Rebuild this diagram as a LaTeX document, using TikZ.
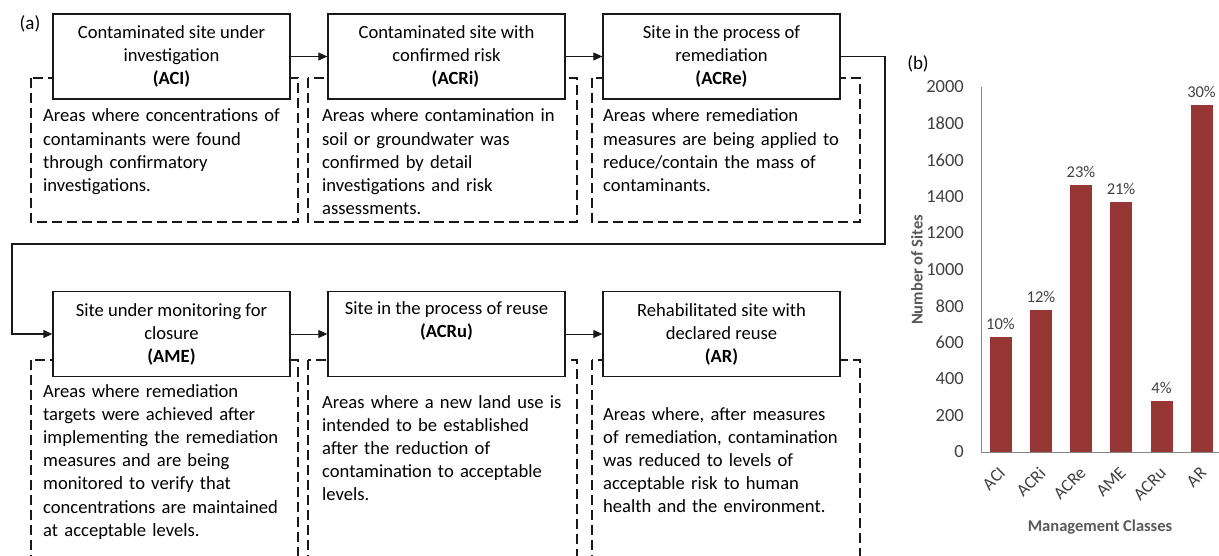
\documentclass[tikz,border=0pt]{standalone}
\usepackage{fontspec}
\usepackage{graphicx}
\setmainfont{Carlito}
\usetikzlibrary{arrows.meta}
\definecolor{barred}{RGB}{150,55,53}
\definecolor{axisgray}{RGB}{134,134,134}
\definecolor{labelgray}{RGB}{64,64,64}
\definecolor{titlegray}{RGB}{89,89,89}
\definecolor{ink}{RGB}{25,25,25}

\begin{document}
\begin{tikzpicture}[x=1pt,y=-1pt,
  stage/.style={draw=ink, line width=1.3pt, fill=white, minimum width=237pt,
    minimum height=85pt, inner sep=0pt, align=center,
    font=\fontsize{18.6}{23}\selectfont},
  descbox/.style={draw=ink, line width=1.3pt, dash pattern=on 10pt off 5pt},
  desc/.style={anchor=base west, inner sep=0pt, text width=250pt, align=left,
    font=\fontsize{18.6}{23.2}\selectfont},
  flow/.style={draw=ink, -{Triangle[length=9pt,width=8pt]}, line width=0.8pt},
  loopflow/.style={draw=ink, -{Triangle[length=9pt,width=8pt]}, line width=1.3pt},
  panel/.style={inner sep=0pt, font=\fontsize{19}{23}\selectfont},
  ticklbl/.style={anchor=east, inner sep=0pt, text=labelgray, font=\fontsize{18.5}{20}\selectfont},
  pctlbl/.style={anchor=base, inner sep=0pt, text=labelgray, font=\fontsize{16.5}{18}\selectfont},
  catlbl/.style={anchor=north east, inner sep=0pt, text=labelgray, font=\fontsize{17.5}{18}\selectfont},
  axtitle/.style={inner sep=0pt, text=titlegray, font=\fontsize{16.5}{18}\selectfont\bfseries}
]
\useasboundingbox (0,0) rectangle (1219,556);
\begin{scope}
\clip (0,0) rectangle (1219,556);

% dashed description frames, top row
\draw[descbox] (31,78) rectangle (298,222);
\draw[descbox] (308,78) rectangle (577,222);
\draw[descbox] (592,78) rectangle (860,222);
% dashed description frames, bottom row (run past the lower edge)
\draw[descbox] (31,360) rectangle (298,640);
\draw[descbox] (308,360) rectangle (577,640);
\draw[descbox] (592,360) rectangle (860,640);

% class boxes
\node[stage] (aci)  at (171.5,56.5) {Contaminated site under\\investigation\\\textbf{(ACI)}};
\node[stage] (acri) at (446.5,56.5) {Contaminated site with\\confirmed risk\\\hspace*{18pt}\textbf{(ACRi)}};
\node[stage] (acre) at (721.5,56.5) {Site in the process of\\remediation\\\textbf{(ACRe)}};
\node[stage] (ame)  at (171.5,334) {Site under monitoring for\\closure\\\textbf{(AME)}};
\node[stage] (acru) at (446.5,334) {Site in the process of reuse\\\textbf{(ACRu)}\\\strut};
\node[stage] (ar)   at (721.5,334) {Rehabilitated site with\\declared reuse\\\textbf{(AR)}};

% descriptions
\node[desc] (daci) at (43,122) {Areas where concentrations of\\contaminants were found\\through confirmatory\\investigations.};
\node[desc] (dacri) at (322,122) {Areas where contamination in\\soil or groundwater was\\confirmed by detail\\investigations and risk\\assessments.};
\node[desc] (dacre) at (603,122) {Areas where remediation\\measures are being applied to\\reduce/contain the mass of\\contaminants.};
\node[desc] (dame) at (43,397) {Areas where remediation\\targets were achieved after\\implementing the remediation\\measures and are being\\monitored to verify that\\concentrations are maintained\\at acceptable levels.};
\node[desc] (dacru) at (322,408) {Areas where a new land use is\\intended to be established\\after the reduction of\\contamination to acceptable\\levels.};
\node[desc] (dar) at (603,420) {Areas where, after measures\\of remediation, contamination\\was reduced to levels of\\acceptable risk to human\\health and the environment.};

% flow between classes
\draw[flow] (aci) -- (acri);
\draw[flow] (acri) -- (acre);
\coordinate (r1) at (885,56.5);
\coordinate (r2) at (885,244);
\coordinate (l1) at (12,244);
\coordinate (l2) at (12,334);
\draw[loopflow] (acre.east) -- (r1) -- (r2) -- (l1) -- (l2) -- (ame.west);
\draw[flow] (ame) -- (acru);
\draw[flow] (acru) -- (ar);

% panel letters
\node[panel] (pa) at (30,24) {(a)};
\node[panel] (pb) at (918,64) {(b)};

% bar chart
\draw[axisgray, line width=1pt] (981,87) -- (981,452) -- (1219,452);
\foreach \v in {0,200,...,2000}
  \node[ticklbl] (t\v) at (964,{452-0.1825*\v}) {\v};
\foreach \cx/\val/\pc/\nm in {1000.5/630/10/ACI, 1041/778/12/ACRi, 1081/1463/23/ACRe,
                              1121/1370/21/AME, 1161.5/280/4/ACRu, 1201.5/1900/30/AR} {
  \fill[barred] ({\cx-11},452) rectangle ({\cx+11},{452-0.1825*\val});
  \node[pctlbl] (p\nm) at (\cx,{452-0.1825*\val-7.5}) {\pc\%};
  \node[catlbl] (c\nm) at ({\cx+6},466) {\rotatebox{45}{\nm}};
}
\node[axtitle] (xt) at (1100,527) {Management Classes};
\node[axtitle] (yt) at (917,270) {\rotatebox{90}{Number of Sites}};
\end{scope}
\end{tikzpicture}
\end{document}
